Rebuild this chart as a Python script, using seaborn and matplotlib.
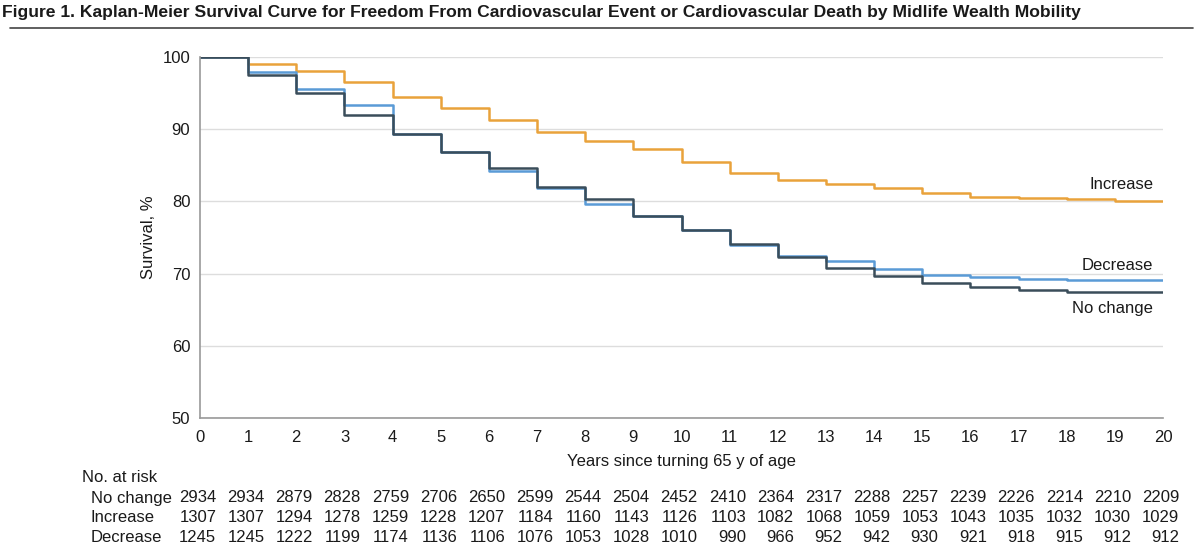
import numpy as np
import pandas as pd
import matplotlib
matplotlib.use("Agg")
import matplotlib.pyplot as plt
import matplotlib.transforms as mtransforms
from matplotlib.lines import Line2D
import seaborn as sns

# survival level for each interval [t, t+1), last value repeats at year 20
years = list(range(21))
no_change = [100, 97.5, 95.0, 91.9, 89.4, 86.9, 84.6, 82.0, 80.3, 78.0, 76.1,
             74.1, 72.3, 70.8, 69.6, 68.7, 68.2, 67.7, 67.5, 67.5, 67.5]
increase = [100, 99.0, 98.0, 96.6, 94.4, 92.9, 91.3, 89.6, 88.4, 87.2, 85.5,
            84.0, 82.9, 82.4, 81.9, 81.2, 80.65, 80.5, 80.3, 80.1, 80.1]
decrease = [100, 97.9, 95.6, 93.3, 89.4, 86.9, 84.2, 81.9, 79.6, 78.0, 76.0,
            73.9, 72.5, 71.7, 70.7, 69.8, 69.5, 69.25, 69.1, 69.1, 69.1]

# number at risk
risk_no_change = [2934, 2934, 2879, 2828, 2759, 2706, 2650, 2599, 2544, 2504, 2452,
                  2410, 2364, 2317, 2288, 2257, 2239, 2226, 2214, 2210, 2209]
risk_increase = [1307, 1307, 1294, 1278, 1259, 1228, 1207, 1184, 1160, 1143, 1126,
                 1103, 1082, 1068, 1059, 1053, 1043, 1035, 1032, 1030, 1029]
risk_decrease = [1245, 1245, 1222, 1199, 1174, 1136, 1106, 1076, 1053, 1028, 1010,
                 990, 966, 952, 942, 930, 921, 918, 915, 912, 912]

groups = ["Increase", "Decrease", "No change"]
colors = {"Increase": "#E9A23B", "Decrease": "#5A9BD6", "No change": "#3A4D5A"}

df = pd.concat([
    pd.DataFrame({"year": years, "survival": increase, "group": "Increase"}),
    pd.DataFrame({"year": years, "survival": decrease, "group": "Decrease"}),
    pd.DataFrame({"year": years, "survival": no_change, "group": "No change"}),
])

sns.set_style("white")
plt.rcParams["font.family"] = ["Liberation Sans Narrow", "Liberation Sans", "DejaVu Sans"]

fig = plt.figure(figsize=(12, 5.58), dpi=100)
ax = fig.add_axes([200 / 1200, 1 - 418 / 558, 963 / 1200, 361 / 558])

sns.lineplot(data=df, x="year", y="survival", hue="group", hue_order=groups,
             palette=colors, drawstyle="steps-post", linewidth=1.8,
             legend=False, ax=ax)

ax.set_xlim(0, 20)
ax.set_ylim(50, 100)
ax.set_xticks(range(0, 21))
ax.set_yticks(range(50, 101, 10))
ax.yaxis.grid(True, color="#dddddd", linewidth=1)
ax.set_axisbelow(True)
for side in ["top", "right"]:
    ax.spines[side].set_visible(False)
for side in ["left", "bottom"]:
    ax.spines[side].set_color("#999999")
    ax.spines[side].set_linewidth(1.2)
ax.tick_params(axis="both", direction="out", length=4, width=1, color="#999999",
               labelsize=12, labelcolor="#1a1a1a", pad=3)
ax.tick_params(axis="x", pad=5)
ax.set_xlabel("Years since turning 65 y of age", fontsize=12, color="#1a1a1a", labelpad=6)
ax.set_ylabel("Survival, %", fontsize=12, color="#1a1a1a", labelpad=5)

# curve labels
ax.text(19.8, 82.3, "Increase", ha="right", va="center", fontsize=12, color="#1a1a1a")
ax.text(19.8, 71.1, "Decrease", ha="right", va="center", fontsize=12, color="#1a1a1a")
ax.text(19.8, 65.1, "No change", ha="right", va="center", fontsize=12, color="#1a1a1a")

# number at risk table
trans = mtransforms.blended_transform_factory(ax.transData, fig.transFigure)
fig.text(82 / 1200, 1 - 478 / 558, "No. at risk", ha="left", va="center",
         fontsize=12, color="#1a1a1a")
rows = [("No change", risk_no_change, 498), ("Increase", risk_increase, 518),
        ("Decrease", risk_decrease, 537)]
for label, counts, ypix in rows:
    fig.text(91 / 1200, 1 - ypix / 558, label, ha="left", va="center",
             fontsize=12, color="#1a1a1a")
    for yr, n in zip(years, counts):
        ax.text(yr + 0.34, 1 - ypix / 558, str(n), ha="right", va="center",
                fontsize=12, color="#1a1a1a", transform=trans)

# title and rule
fig.text(2 / 1200, 1 - 13 / 558,
         "Figure 1. Kaplan-Meier Survival Curve for Freedom From Cardiovascular Event or "
         "Cardiovascular Death by Midlife Wealth Mobility",
         ha="left", va="center", fontsize=12.6, fontweight="bold", color="#1a1a1a")
fig.add_artist(Line2D([10 / 1200, 1193 / 1200], [1 - 28 / 558, 1 - 28 / 558],
                      transform=fig.transFigure, color="#444444", linewidth=1.2))

fig.savefig("out.png", dpi=100)
